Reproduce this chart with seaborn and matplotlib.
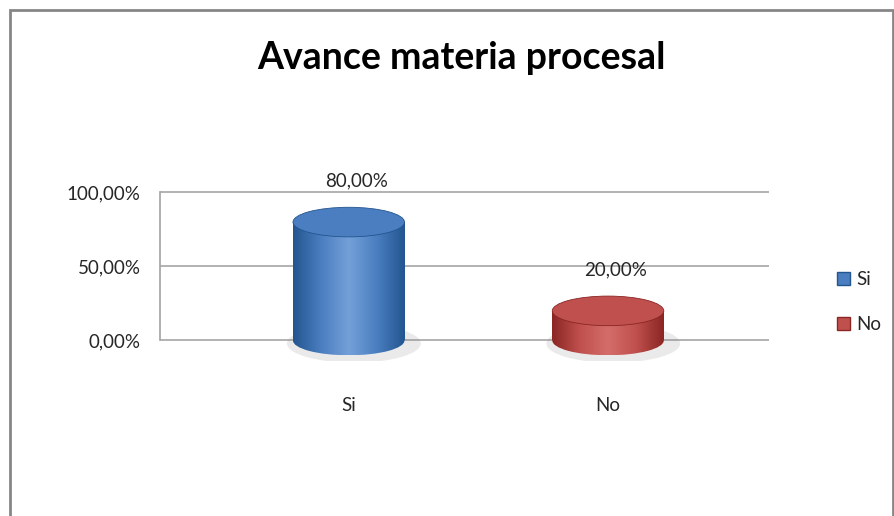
import numpy as np
import pandas as pd
import matplotlib
matplotlib.use("Agg")
import matplotlib.pyplot as plt
import seaborn as sns
from matplotlib.patches import Ellipse, Rectangle, Patch
from matplotlib.colors import LinearSegmentedColormap

# Données du graphique
categorias = ["Si", "No"]
porcentajes = [80.0, 20.0]
colores = ["#4A7EC0", "#C0504D"]
oscuros = ["#23558F", "#8A2624"]
claros = ["#74A0D8", "#D46D6A"]
ticks_y = [0, 50, 100]

def fmt_pct(v):
    return f"{v:.2f}".replace(".", ",") + "%"

sns.set_theme(style="white")
plt.rcParams["font.family"] = ["Lato", "DejaVu Sans"]

df = pd.DataFrame({"categoria": categorias, "valor": porcentajes})

fig = plt.figure(figsize=(8.95, 5.16), dpi=100)
ax = fig.add_axes([0.179, 0.30, 0.68, 0.37])

sns.barplot(data=df, x="categoria", y="valor", hue="categoria",
            palette=colores, width=0.43, legend=False, ax=ax)

# Pared de fondo: líneas de referencia
for t in ticks_y:
    ax.axhline(t, color="#A6A6A6", lw=1.2, zorder=0)
sns.despine(ax=ax, left=False, bottom=True, right=True, top=True)
ax.spines["left"].set_bounds(0, 100)
ax.spines["left"].set_color("#A6A6A6")
ax.set_yticks(ticks_y)
ax.set_yticklabels([fmt_pct(t) for t in ticks_y], fontsize=13.5, color="#262626")
ax.tick_params(axis="y", length=0, pad=14)
ax.tick_params(axis="x", length=0, pad=26, labelsize=13.5, labelcolor="#262626")
ax.set_xlabel("")
ax.set_ylabel("")

# Cilindros: degradado + tapas elípticas
eh = 20  # alto de la elipse en unidades de datos
grad = np.linspace(0, 1, 256).reshape(1, -1)
for i, (bar, val, c, dk, lt) in enumerate(zip(ax.patches, porcentajes, colores, oscuros, claros)):
    x0 = bar.get_x()
    w = bar.get_width()
    xc = x0 + w / 2
    bar.set_visible(False)
    cmap = LinearSegmentedColormap.from_list("cil", [dk, c, lt, c, dk])
    # sombra
    sombra = Ellipse((xc + 0.02, -2), w * 1.2, eh * 1.3, color="#8C8C8C",
                     alpha=0.18, lw=0, zorder=1)
    ax.add_patch(sombra)
    # cuerpo
    rect = Rectangle((x0, 0), w, val, transform=ax.transData, fc="none", lw=0)
    ax.add_patch(rect)
    im = ax.imshow(grad, cmap=cmap, aspect="auto", extent=(x0, x0 + w, 0, val),
                   zorder=2, interpolation="bicubic")
    im.set_clip_path(rect)
    base = Ellipse((xc, 0), w, eh, fc="none", lw=0)
    ax.add_patch(base)
    im2 = ax.imshow(grad, cmap=cmap, aspect="auto", extent=(x0, x0 + w, -eh / 2, 0),
                    zorder=2, interpolation="bicubic")
    im2.set_clip_path(base)
    # tapa superior
    tapa = Ellipse((xc, val), w, eh, fc=c, ec=dk, lw=0.6, zorder=3)
    ax.add_patch(tapa)
    ax.text(xc + 0.03, val + 22, fmt_pct(val), ha="center", va="bottom",
            fontsize=13.5, color="#262626")

ax.set_xlim(-0.727, 1.62)
ax.set_ylim(-14, 115)

# Título
fig.text(0.516, 1 - 58 / 516, "Avance materia procesal", ha="center", va="center",
         fontsize=27, fontweight="bold", color="black")

# Leyenda
handles = [Patch(facecolor=c, edgecolor=d, label=l)
           for c, d, l in zip(colores, oscuros, categorias)]
fig.legend(handles=handles, loc="center left", bbox_to_anchor=(0.925, 0.415),
           frameon=False, fontsize=13.5, handlelength=0.7, handleheight=0.7,
           handletextpad=0.3, labelspacing=1.5, borderpad=0)

# Marco del gráfico
marco = Rectangle((10 / 895, -0.1), 883 / 895, 1.1 - 10 / 516,
                  transform=fig.transFigure, fill=False, ec="#868686", lw=2)
fig.patches.append(marco)

fig.savefig("out.png", dpi=100, facecolor="white")
